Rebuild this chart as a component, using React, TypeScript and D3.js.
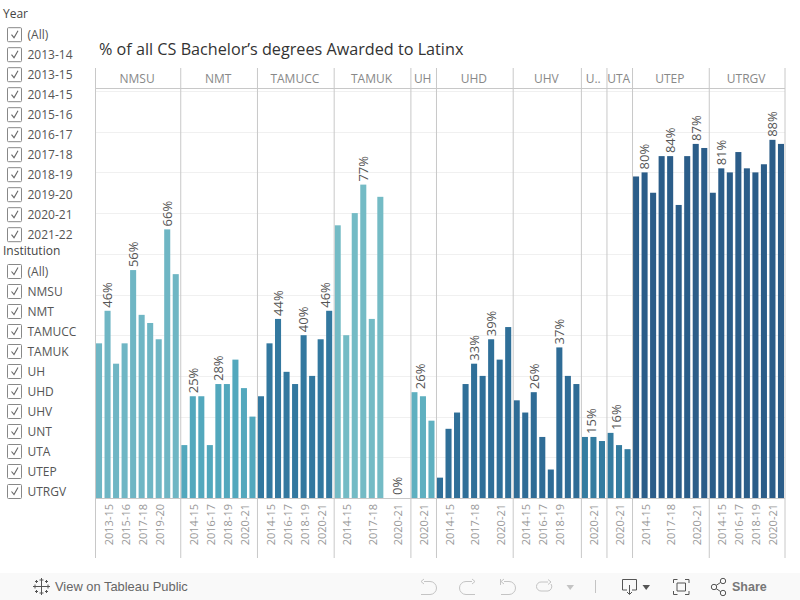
import { useRef, useEffect } from 'react';
import * as d3 from 'd3';

const yearOptions = ['(All)', '2013-14', '2013-15', '2014-15', '2015-16', '2016-17', '2017-18', '2018-19', '2019-20', '2020-21', '2021-22'];
const institutionOptions = ['(All)', 'NMSU', 'NMT', 'TAMUCC', 'TAMUK', 'UH', 'UHD', 'UHV', 'UNT', 'UTA', 'UTEP', 'UTRGV'];

const allYears = ['2013-14', '2013-15', '2014-15', '2015-16', '2016-17', '2017-18', '2018-19', '2019-20', '2020-21', '2021-22'];
const nineYears = allYears.slice(1);
const lastThree = ['2019-20', '2020-21', '2021-22'];
const uhvYears = ['2013-15', '2014-15', '2015-16', '2016-17', '2017-18', '2018-19', '2019-20', '2021-22'];

// % values, null = no bar
const nmsuValues = [38, 46, 33, 38, 56, 45, 43, 39, 66, 55];
const nmtValues = [13, 25, 25, 13, 28, 28, 34, 27, 20];
const tamuccValues = [25, 38, 44, 31, 28, 40, 30, 39, 46];
const tamukValues = [67, 40, 70, 77, 44, 74, null, 0, null];
const uhValues = [26, 25, 19];
const uhdValues = [5, 17, 21, 28, 33, 30, 39, 34, 42];
const uhvValues = [24, 21, 26, 15, 7, 37, 30, 28];
const untValues = [15, 15, 14];
const utaValues = [16, 13, 12];
const utepValues = [79, 80, 75, 84, 84, 72, 84, 87, 86];
const utrgvValues = [75, 81, 80, 85, 81, 80, 82, 88, 87];

const headers = ['NMSU', 'NMT', 'TAMUCC', 'TAMUK', 'UH', 'UHD', 'UHV', 'U..', 'UTA', 'UTEP', 'UTRGV'];
const colors = ['#6fb6c4', '#53a8bd', '#33789f', '#74bbc5', '#5fb0c0', '#2f6f98', '#2f6c96', '#347ca0', '#347ca0', '#2b5d89', '#2b5d89'];

const panels = [
  { years: allYears, values: nmsuValues, labelled: ['2013-15', '2016-17', '2020-21'], ticks: ['2013-15', '2015-16', '2017-18', '2019-20'] },
  { years: nineYears, values: nmtValues, labelled: ['2014-15', '2017-18'], ticks: ['2014-15', '2016-17', '2018-19', '2020-21'] },
  { years: nineYears, values: tamuccValues, labelled: ['2015-16', '2018-19', '2021-22'], ticks: ['2014-15', '2016-17', '2018-19', '2020-21'] },
  { years: nineYears, values: tamukValues, labelled: ['2016-17', '2020-21'], ticks: ['2014-15', '2017-18', '2020-21'] },
  { years: lastThree, values: uhValues, labelled: ['2019-20'], ticks: ['2020-21'] },
  { years: nineYears, values: uhdValues, labelled: ['2017-18', '2019-20'], ticks: ['2014-15', '2017-18', '2020-21'] },
  { years: uhvYears, values: uhvValues, labelled: ['2015-16', '2018-19'], ticks: ['2014-15', '2016-17', '2018-19'] },
  { years: lastThree, values: untValues, labelled: ['2019-20'], ticks: ['2020-21'] },
  { years: lastThree, values: utaValues, labelled: ['2019-20'], ticks: ['2020-21'] },
  { years: nineYears, values: utepValues, labelled: ['2014-15', '2017-18', '2020-21'], ticks: ['2014-15', '2017-18', '2020-21'] },
  { years: nineYears, values: utrgvValues, labelled: ['2014-15', '2020-21'], ticks: ['2014-15', '2016-17', '2018-19', '2020-21'] },
];

const gridValues = [10, 20, 30, 40, 50, 60, 70, 80, 90, 100];
const FONT = '"Open Sans", sans-serif';

export default function App() {
  const svgRef = useRef<SVGSVGElement>(null);

  useEffect(() => {
    const svg = d3.select(svgRef.current);
    svg.selectAll('*').remove();

    const top = 68;
    const headerBottom = 88.5;
    const baseline = 498;
    const bottom = 558;

    const slots = panels.flatMap((p, i) => p.years.map(y => `${i}|${y}`));
    const x = d3.scaleBand().domain(slots).range([96, 784]).paddingInner(0.29).paddingOuter(0);
    const y = d3.scaleLinear().domain([0, 100]).range([baseline, 91]);

    // Grid
    svg.append('g').selectAll('line').data(gridValues).join('line')
      .attr('x1', 96).attr('x2', 785)
      .attr('y1', d => Math.round(y(d)) + 0.5).attr('y2', d => Math.round(y(d)) + 0.5)
      .attr('stroke', '#f0f0f0');

    // Bars, value labels, tick labels
    panels.forEach((p, i) => {
      const g = svg.append('g');
      const panelStart = x(`${i}|${p.years[0]}`) || 0;
      const panelEnd = (x(`${i}|${p.years[p.years.length - 1]}`) || 0) + x.step();
      p.values.forEach((v, j) => {
        if (v === null) return;
        const key = `${i}|${p.years[j]}`;
        const bx = x(key) || 0;
        if (v > 0) {
          g.append('rect')
            .attr('x', bx).attr('y', y(v))
            .attr('width', x.bandwidth()).attr('height', baseline - y(v))
            .attr('fill', colors[i]);
        }
        if (p.labelled.includes(p.years[j])) {
          // labels get pushed back inside when they would cross the pane edge
          const center = Math.min(Math.max(bx + x.bandwidth() / 2, panelStart + 9), panelEnd - 9);
          const lx = center + 4.8;
          const ly = y(v) - 3;
          g.append('text')
            .attr('transform', `translate(${lx},${ly}) rotate(-90)`)
            .attr('font-family', FONT).attr('font-size', 13)
            .attr('fill', '#555')
            .text(`${v}%`);
        }
      });
      p.ticks.forEach(t => {
        const lx = (x(`${i}|${t}`) || 0) + x.bandwidth() / 2 + 5;
        g.append('text')
          .attr('transform', `translate(${lx},504) rotate(-90)`)
          .attr('text-anchor', 'end')
          .attr('font-family', FONT).attr('font-size', 11)
          .attr('fill', '#999')
          .text(t);
      });
    });

    // Panel dividers and headers
    const starts = panels.map((p, i) => (x(`${i}|${p.years[0]}`) || 0) - 0.5);
    const edges = [...starts, 785];
    svg.append('g').selectAll('line').data(edges).join('line')
      .attr('x1', d => d).attr('x2', d => d)
      .attr('y1', top).attr('y2', bottom)
      .attr('stroke', '#c8c8c8').attr('stroke-width', 1);
    [headerBottom, baseline + 0.5].forEach(ly => {
      svg.append('line')
        .attr('x1', 95.5).attr('x2', 785).attr('y1', ly).attr('y2', ly)
        .attr('stroke', '#c8c8c8');
    });
    headers.forEach((h, i) => {
      svg.append('text')
        .attr('x', (edges[i] + edges[i + 1]) / 2 - 1).attr('y', 83)
        .attr('text-anchor', 'middle')
        .attr('font-family', FONT).attr('font-size', 12)
        .attr('fill', '#888')
        .text(h);
    });

    // Title
    svg.append('text')
      .attr('x', 99).attr('y', 55)
      .attr('font-family', FONT).attr('font-size', 16.2)
      .attr('fill', '#333')
      .text('% of all CS Bachelor\u2019s degrees Awarded to Latinx');

    // Filters
    const filter = (title: string, titleY: number, firstY: number, items: string[]) => {
      svg.append('text')
        .attr('x', 3).attr('y', titleY)
        .attr('font-family', FONT).attr('font-size', 12)
        .attr('fill', '#444')
        .text(title);
      items.forEach((item, k) => {
        const cy = firstY + k * 20;
        svg.append('rect')
          .attr('x', 7.5).attr('y', cy - 7).attr('width', 14).attr('height', 14)
          .attr('fill', '#fff').attr('stroke', '#888').attr('rx', 1);
        svg.append('path')
          .attr('d', `M11.5 ${cy} L14 ${cy + 3} L18 ${cy - 4}`)
          .attr('fill', 'none').attr('stroke', '#666').attr('stroke-width', 1.1);
        svg.append('text')
          .attr('x', 27.5).attr('y', cy + 4)
          .attr('font-family', FONT).attr('font-size', 12)
          .attr('fill', '#555')
          .text(item);
      });
    };
    filter('Year', 17.5, 34.7, yearOptions);
    filter('Institution', 254.5, 271.5, institutionOptions);

    // Footer toolbar
    svg.append('rect').attr('x', 0).attr('y', 573).attr('width', 800).attr('height', 27).attr('fill', '#f9f9f9');
    svg.append('text')
      .attr('x', 55).attr('y', 590.5)
      .attr('font-family', '"Liberation Sans", sans-serif').attr('font-size', 12.9)
      .attr('fill', '#666')
      .text('View on Tableau Public');
    svg.append('text')
      .attr('x', 732).attr('y', 591)
      .attr('font-family', '"Liberation Sans", sans-serif').attr('font-size', 12.5).attr('font-weight', 'bold')
      .attr('fill', '#777')
      .text('Share');

    const icon = (d: string, stroke: string, fill = 'none') => {
      svg.append('path').attr('d', d).attr('fill', fill).attr('stroke', stroke).attr('stroke-width', fill === 'none' ? 1 : 0);
    };
    // Tableau logo
    const plus = (cx: number, cy: number, r: number) => `M${cx - r} ${cy}H${cx + r}M${cx} ${cy - r}V${cy + r}`;
    icon([plus(41.5, 586.5, 4.5), plus(41.5, 580, 2), plus(41.5, 593, 2), plus(35, 586.5, 2), plus(48, 586.5, 2), plus(36.5, 581.5, 1.5), plus(46.5, 581.5, 1.5), plus(36.5, 591.5, 1.5), plus(46.5, 591.5, 1.5)].join(''), '#555');
    // Undo, redo, revert, refresh
    icon('M424 581.5H430A6.5 6.5 0 0 1 430 594.5H421M424 579L421 581.5L424 584', '#c4c4c4');
    icon('M472 581.5H466A6.5 6.5 0 0 0 466 594.5H475M472 579L475 581.5L472 584', '#c4c4c4');
    icon('M504 581.5H509A6.5 6.5 0 0 1 509 594.5H501M504 579L501 581.5L504 584M500.5 579V585', '#c4c4c4');
    icon('M548 582H541A4.5 4.5 0 0 0 541 591H548A4.5 4.5 0 0 0 551 584M548 579.5L551 582L548 584.5', '#c4c4c4');
    icon('M566.5 585H574L570.2 590Z', '#c4c4c4', '#c4c4c4');
    svg.append('line').attr('x1', 595.5).attr('x2', 595.5).attr('y1', 580).attr('y2', 593).attr('stroke', '#c4c4c4');
    // Download
    icon('M627 590H622.5V579.5H636.5V590H632M629.5 585V594M627 592L629.5 594.5L632 592', '#555');
    icon('M642.5 585H650L646.2 590Z', '#555', '#555');
    // Fullscreen
    icon('M673.5 583V579.5H677.5M685 579.5H689V583M689 591V594.5H685M677.5 594.5H673.5V591M677 583H685.5V591H677Z', '#555');
    // Share
    icon('M714.5 586.5L722 581.5M714.5 587.5L722 592.5', '#555');
    [[714, 587, 2.7], [723, 581, 2.7], [723, 593, 2.7]].forEach(([cx, cy, r]) => {
      svg.append('circle').attr('cx', cx).attr('cy', cy).attr('r', r).attr('fill', '#f9f9f9').attr('stroke', '#555');
    });
  }, []);

  return <svg ref={svgRef} width={800} height={600} style={{ position: 'absolute', left: 0, top: 0, background: '#fff' }} />;
}
